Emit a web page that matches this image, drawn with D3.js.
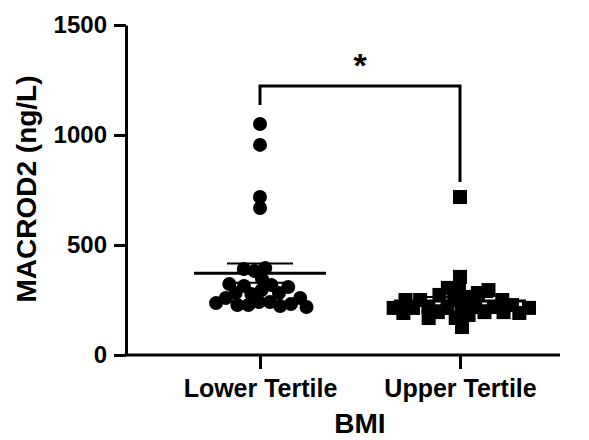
<!DOCTYPE html>
<html>
<head>
<meta charset="utf-8">
<script src="https://cdn.jsdelivr.net/npm/d3@7"></script>
<style>
  body { margin: 0; background: #fff; }
  text { font-family: "Liberation Sans", Arial, sans-serif; font-weight: bold; fill: #000; }
</style>
</head>
<body>
<div id="chart"></div>
<script>
// data (ng/L)
const groups = ["Lower Tertile", "Upper Tertile"];
const lowerTertile = [1050, 955, 718, 668, 382, 395, 391, 345, 323, 318, 314, 309, 295,
  282, 277, 282, 241, 227, 241, 223, 227, 218, 259, 259, 236, 232];
const upperTertile = [718, 355, 273, 295, 305, 282, 264, 214, 195, 218, 168, 168, 127,
  214, 195, 182, 218, 218, 218, 195, 214, 214, 191, 227, 250, 191, 250, 250, 250, 295];
const yTicks = [0, 500, 1000, 1500];
const yLabel = "MACROD2 (ng/L)";
const xLabel = "BMI";
const sigLabel = "*";

const width = 589, height = 440;
const axisLeftX = 126, axisBottomY = 355;

const svg = d3.select("#chart")
  .append("svg")
    .attr("width", width)
    .attr("height", height);

const y = d3.scaleLinear().domain([0, 1500]).range([axisBottomY, 25]);
const x = d3.scalePoint().domain(groups).range([260, 460]);

// y axis
const yAxis = svg.append("g")
  .attr("transform", "translate(" + axisLeftX + ",0)")
  .call(d3.axisLeft(y).tickValues(yTicks).tickFormat(d3.format("d"))
    .tickSize(12).tickSizeOuter(0).tickPadding(7));
yAxis.select(".domain").attr("stroke-width", 3);
yAxis.selectAll(".tick line").attr("stroke-width", 3);
yAxis.selectAll(".tick text").style("font-size", "24px");

// x axis
svg.append("line")
  .attr("x1", axisLeftX - 1.5).attr("x2", 560)
  .attr("y1", axisBottomY).attr("y2", axisBottomY)
  .attr("stroke", "#000").attr("stroke-width", 3);
const xAxis = svg.append("g")
  .attr("transform", "translate(0," + axisBottomY + ")")
  .call(d3.axisBottom(x).tickSize(14).tickPadding(10));
xAxis.select(".domain").remove();
xAxis.selectAll(".tick line").attr("stroke-width", 3);
xAxis.selectAll(".tick text").style("font-size", "25px");

// titles
svg.append("text")
  .attr("transform", "translate(36,189) rotate(-90)")
  .attr("text-anchor", "middle")
  .style("font-size", "28px")
  .text(yLabel);
svg.append("text")
  .attr("x", 360).attr("y", 433)
  .attr("text-anchor", "middle")
  .style("font-size", "28px")
  .text(xLabel);

// scatter layout: y fixed at the value, points pushed sideways only
function swarm(values, cx) {
  const nodes = values.map((v, i) => ({v: v, x: cx + (i % 2 ? 1 : -1) * i * 0.5, fy: y(v)}));
  const sim = d3.forceSimulation(nodes)
    .force("x", d3.forceX(cx).strength(0.05))
    .force("collide", d3.forceCollide(5.5))
    .stop();
  for (let i = 0; i < 300; i++) sim.tick();
  return nodes;
}

const lowerNodes = swarm(lowerTertile, x(groups[0]));
const upperNodes = swarm(upperTertile, x(groups[1]));

svg.append("g").selectAll("circle")
  .data(lowerNodes)
  .enter()
  .append("circle")
    .attr("cx", d => d.x)
    .attr("cy", d => d.y)
    .attr("r", 7)
    .attr("fill", "#000");

svg.append("g").selectAll("rect")
  .data(upperNodes)
  .enter()
  .append("rect")
    .attr("x", d => d.x - 7)
    .attr("y", d => d.y - 7)
    .attr("width", 14)
    .attr("height", 14)
    .attr("fill", "#000");

// mean +/- SEM
[lowerTertile, upperTertile].forEach((vals, i) => {
  const cx = x(groups[i]);
  const m = d3.mean(vals);
  const sem = d3.deviation(vals) / Math.sqrt(vals.length);
  const g = svg.append("g").attr("stroke", "#000");
  g.append("line").attr("x1", cx - 66).attr("x2", cx + 66)
    .attr("y1", y(m)).attr("y2", y(m)).attr("stroke-width", 3);
  g.append("line").attr("x1", cx).attr("x2", cx)
    .attr("y1", y(m + sem)).attr("y2", y(m - sem)).attr("stroke-width", 2);
  [m + sem, m - sem].forEach(v => {
    g.append("line").attr("x1", cx - 33).attr("x2", cx + 33)
      .attr("y1", y(v)).attr("y2", y(v)).attr("stroke-width", 2);
  });
});

// significance bracket
const legL = y(d3.max(lowerTertile)) - 19;
const legR = y(d3.max(upperTertile)) - 15;
const bracketTop = Math.min(legL, legR) - 19;
svg.append("path")
  .attr("d", "M" + x(groups[0]) + "," + legL + "V" + bracketTop + "H" + x(groups[1]) + "V" + legR)
  .attr("fill", "none")
  .attr("stroke", "#000")
  .attr("stroke-width", 3);
svg.append("text")
  .attr("x", (x(groups[0]) + x(groups[1])) / 2)
  .attr("y", bracketTop - 9)
  .attr("text-anchor", "middle")
  .style("font-size", "34px")
  .text(sigLabel);
</script>
</body>
</html>
